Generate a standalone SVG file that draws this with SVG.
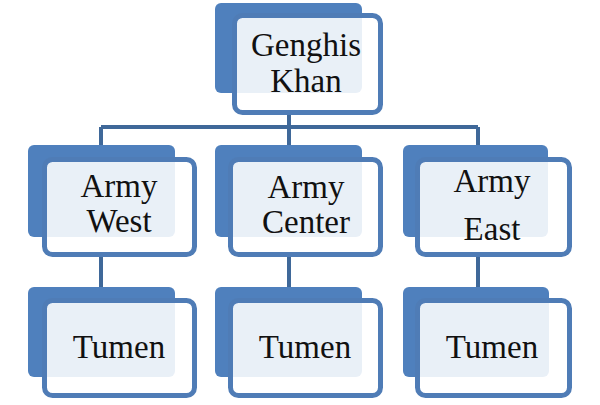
<svg xmlns="http://www.w3.org/2000/svg" width="600" height="405" viewBox="0 0 600 405">
<style>
.back{fill:#4f80bd}
.front{fill:#ffffff;fill-opacity:0.88;stroke:#4f7cb6;stroke-width:5}
.conn{fill:none;stroke:#3f6899;stroke-width:4;stroke-linecap:butt;stroke-linejoin:miter}
text{font-family:"Liberation Serif","DejaVu Serif",serif;font-size:33px;fill:#111;text-anchor:middle}
</style>
<rect width="600" height="405" fill="#ffffff"/>
<g id="connectors">
<path class="conn" d="M289 113 V127 M101 127 H478 M101 127 V147 M289 127 V147 M478 127 V147 M101 255 V289 M289 255 V289 M478 255 V289"/>
</g>
<g id="genghis">
<rect class="back" x="215" y="3" width="147" height="90" rx="6"/>
<rect class="front" x="234.5" y="15.5" width="146" height="97" rx="8"/>
<text x="306" y="56">Genghis</text>
<text x="306" y="92">Khan</text>
</g>
<g id="army-west">
<rect class="back" x="28" y="145" width="147" height="92" rx="6"/>
<rect class="front" x="44.5" y="159.5" width="150" height="95" rx="8"/>
<text x="119" y="197">Army</text>
<text x="119" y="232">West</text>
</g>
<g id="army-center">
<rect class="back" x="215" y="145" width="147" height="92" rx="6"/>
<rect class="front" x="230.5" y="159.5" width="150" height="95" rx="8"/>
<text x="306" y="198">Army</text>
<text x="306" y="233">Center</text>
</g>
<g id="army-east">
<rect class="back" x="403" y="145" width="145" height="92" rx="6"/>
<rect class="front" x="417.5" y="159.5" width="152" height="95" rx="8"/>
<text x="492" y="192">Army</text>
<text x="492" y="240">East</text>
</g>
<g id="tumen-west">
<rect class="back" x="28" y="287" width="147" height="90" rx="6"/>
<rect class="front" x="44.5" y="300.5" width="150" height="95" rx="8"/>
<text x="119" y="358">Tumen</text>
</g>
<g id="tumen-center">
<rect class="back" x="215" y="287" width="147" height="90" rx="6"/>
<rect class="front" x="230.5" y="300.5" width="150" height="95" rx="8"/>
<text x="305" y="358">Tumen</text>
</g>
<g id="tumen-east">
<rect class="back" x="403" y="287" width="146" height="90" rx="6"/>
<rect class="front" x="417.5" y="300.5" width="152" height="95" rx="8"/>
<text x="492" y="358">Tumen</text>
</g>
</svg>
